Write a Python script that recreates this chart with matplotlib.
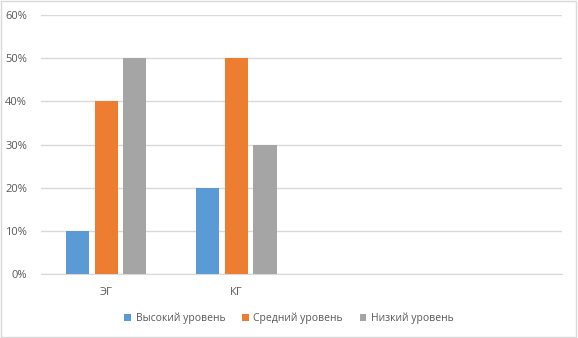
import numpy as np
import matplotlib.pyplot as plt
from matplotlib.patches import Rectangle

plt.rcParams['font.family'] = ['Open Sans', 'DejaVu Sans']

# Data
categories = ["ЭГ", "КГ", "", ""]
series_names = ["Высокий уровень", "Средний уровень", "Низкий уровень"]
high = [10, 20, np.nan, np.nan]
mid = [40, 50, np.nan, np.nan]
low = [50, 30, np.nan, np.nan]
colors = ["#5B9BD5", "#ED7D31", "#A5A5A5"]

fig = plt.figure(figsize=(5.78, 3.38), dpi=100)
ax = fig.add_axes([0.0709, 0.1885, 0.9014, 0.7671])

x = np.arange(len(categories))
width = 0.177
pitch = 0.22
for i, (vals, name, c) in enumerate(zip([high, mid, low], series_names, colors)):
    ax.bar(x + (i - 1) * pitch, vals, width, color=c, label=name, zorder=3)

ax.set_xlim(-0.5, len(categories) - 0.5)
ax.set_ylim(0, 60)
ax.set_yticks(np.arange(0, 61, 10))
ax.set_yticklabels([f"{v}%" for v in range(0, 61, 10)])
ax.set_xticks(x)
ax.set_xticklabels(categories)
ax.tick_params(axis='both', length=0, labelsize=8, colors="#595959")
ax.tick_params(axis='y', pad=10)
ax.tick_params(axis='x', pad=9)
ax.grid(axis='y', color="#D9D9D9", linewidth=1, zorder=0)
for s in ["top", "right", "left"]:
    ax.spines[s].set_visible(False)
ax.spines["bottom"].set_color("#D9D9D9")

leg = fig.legend(loc='center', bbox_to_anchor=(0.5, 0.058), ncol=3, frameon=False,
                 fontsize=7.5, handlelength=0.65, handleheight=0.65, handletextpad=0.45,
                 columnspacing=1.6)
for t in leg.get_texts():
    t.set_color("#595959")

fig.patches.append(Rectangle((0.002, 0.003), 0.995, 0.994, transform=fig.transFigure,
                             fill=False, edgecolor="#D9D9D9", linewidth=1))

plt.savefig("out.png", dpi=100)
